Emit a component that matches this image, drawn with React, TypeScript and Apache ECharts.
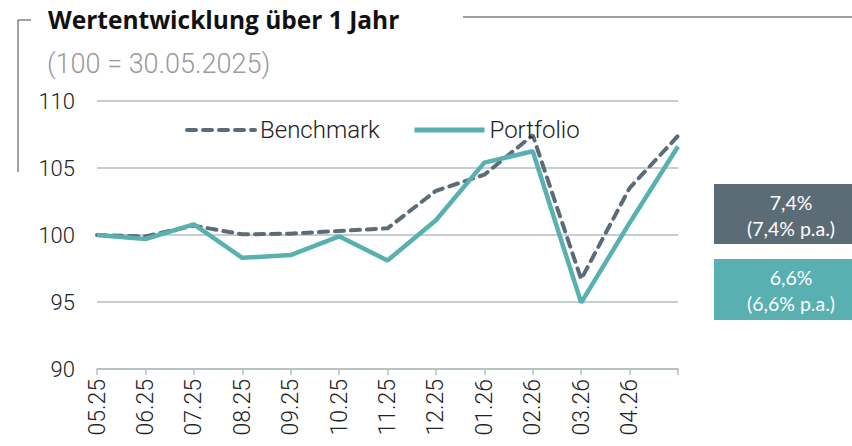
import React, { useEffect, useRef } from "react";
import * as echarts from "echarts";

const categories = ["05.25", "06.25", "07.25", "08.25", "09.25", "10.25", "11.25", "12.25", "01.26", "02.26", "03.26", "04.26", ""];
const portfolio = [100, 99.7, 100.8, 98.3, 98.5, 99.9, 98.1, 101.1, 105.4, 106.25, 94.95, 100.9, 106.6];
const benchmark = [100, 99.9, 100.7, 100.05, 100.1, 100.3, 100.5, 103.3, 104.5, 107.45, 96.7, 103.5, 107.4];
const yTicks = [90, 95, 100, 105, 110];

const TEAL = "#58b0b0";
const SLATE = "#5c6c77";
const LIGHT = "Roboto";

export default function App() {
  const ref = useRef<HTMLDivElement>(null);
  useEffect(() => {
    const chart = echarts.init(ref.current!, null, { renderer: "svg" });
    const legendText = { fontFamily: LIGHT, fontWeight: 300, fontSize: 24, color: "#222" };
    chart.setOption({
      animation: false,
      backgroundColor: "#ffffff",
      grid: { left: 97, right: 174, top: 101, bottom: 77 },
      legend: [
        {
          data: ["Benchmark"],
          left: 180,
          top: 113,
          itemWidth: 68,
          itemHeight: 14,
          itemStyle: { opacity: 0 },
          lineStyle: { width: 4 },
          textStyle: legendText,
        },
        {
          data: ["Portfolio"],
          left: 407,
          top: 113,
          itemWidth: 70,
          itemHeight: 14,
          itemStyle: { opacity: 0 },
          lineStyle: { width: 5 },
          textStyle: legendText,
        },
      ],
      xAxis: {
        type: "category",
        data: categories,
        boundaryGap: false,
        axisLine: { show: true, lineStyle: { color: "#b3bfbf", width: 1.5 } },
        axisTick: { show: true, length: 6, lineStyle: { color: "#b3bfbf", width: 1.5 } },
        axisLabel: {
          rotate: 90,
          margin: 10,
          fontFamily: LIGHT,
          fontWeight: 300,
          fontSize: 23,
          color: "#222",
        },
        splitLine: { show: false },
      },
      yAxis: {
        type: "value",
        min: 90,
        max: 110,
        interval: 5,
        axisLine: { show: false },
        axisTick: { show: false },
        axisLabel: {
          margin: 22,
          fontFamily: LIGHT,
          fontWeight: 300,
          fontSize: 22,
          color: "#222",
          formatter: (v: number) => (yTicks.includes(v) ? String(v) : ""),
        },
        splitLine: { show: true, lineStyle: { color: "#b3bfbf", width: 1.5 } },
      },
      series: [
        {
          name: "Benchmark",
          type: "line",
          data: benchmark,
          showSymbol: false,
          symbol: "none",
          z: 2,
          lineStyle: { color: SLATE, width: 4, type: [9, 7], cap: "round" },
          itemStyle: { color: SLATE },
        },
        {
          name: "Portfolio",
          type: "line",
          data: portfolio,
          showSymbol: false,
          symbol: "none",
          z: 3,
          lineStyle: { color: TEAL, width: 4.5 },
          itemStyle: { color: TEAL },
        },
      ],
      graphic: [
        { type: "line", shape: { x1: 18, y1: 20, x2: 18, y2: 172 }, style: { stroke: "#444", lineWidth: 1 } },
        { type: "line", shape: { x1: 18, y1: 20, x2: 31, y2: 20 }, style: { stroke: "#444", lineWidth: 1 } },
        { type: "line", shape: { x1: 463, y1: 17, x2: 852, y2: 17 }, style: { stroke: "#444", lineWidth: 1 } },
        {
          type: "text",
          left: 48,
          top: 7,
          style: { text: "Wertentwicklung über 1 Jahr", font: "bold 24.5px 'Open Sans'", fill: "#111" },
        },
        {
          type: "text",
          left: 47,
          top: 50,
          style: { text: "(100 = 30.05.2025)", font: "300 27px Roboto", fill: "#9a9a9a" },
        },
        { type: "rect", shape: { x: 714, y: 184, width: 138, height: 60 }, style: { fill: SLATE } },
        {
          type: "text",
          x: 791,
          y: 215,
          style: {
            text: "7,4%\n(7,4% p.a.)",
            font: "19.5px Lato",
            fill: "#ffffff",
            align: "center",
            verticalAlign: "middle",
            lineHeight: 26,
          },
        },
        { type: "rect", shape: { x: 714, y: 259, width: 138, height: 61 }, style: { fill: TEAL } },
        {
          type: "text",
          x: 791,
          y: 290,
          style: {
            text: "6,6%\n(6,6% p.a.)",
            font: "19.5px Lato",
            fill: "#ffffff",
            align: "center",
            verticalAlign: "middle",
            lineHeight: 26,
          },
        },
      ],
    });
    return () => chart.dispose();
  }, []);
  return <div ref={ref} style={{ width: 852, height: 446, position: "absolute", left: 0, top: 0 }} />;
}
